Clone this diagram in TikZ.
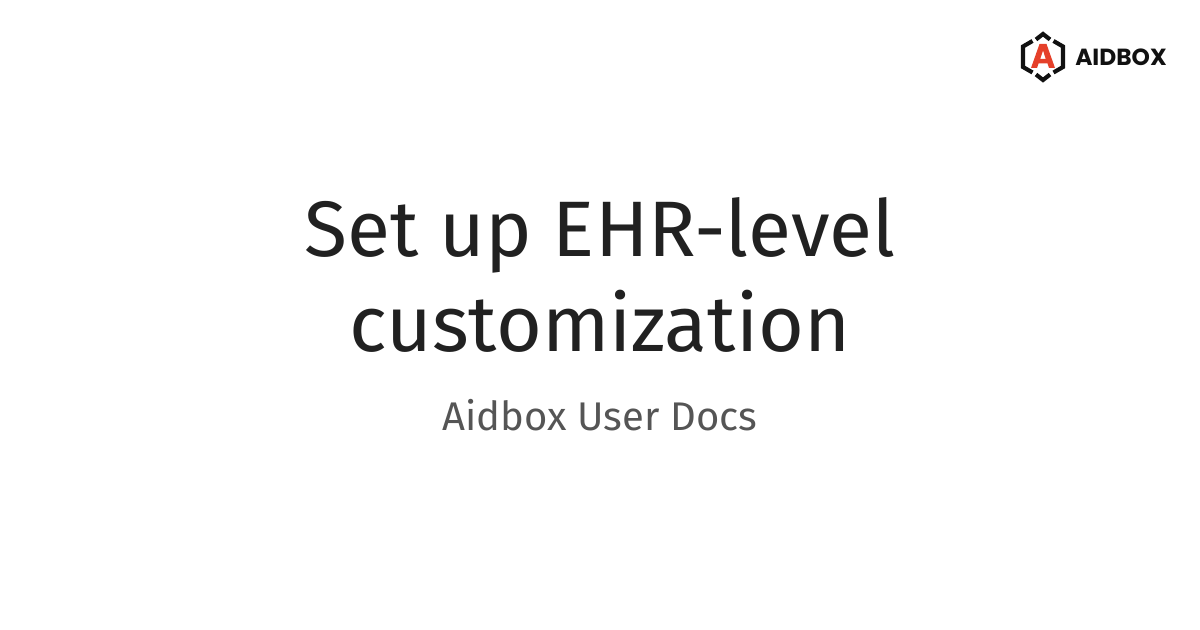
\documentclass[tikz,border=0pt]{standalone}
\usepackage{fontspec}
\setmainfont{Fira Sans}
\newfontfamily\logofont{Poppins}
\usepackage{tikz}
\usetikzlibrary{positioning}
\definecolor{titleink}{HTML}{212121}
\definecolor{subink}{HTML}{555555}
\definecolor{logored}{HTML}{E5402A}
\definecolor{logoink}{HTML}{111111}

\begin{document}
\begin{tikzpicture}[
  x=0.75pt, y=-0.75pt,
  title/.style={align=center, inner sep=0pt, text=titleink,
    font=\fontsize{59}{71.25}\selectfont},
  subtitle/.style={inner sep=0pt, text=subink,
    font=\fontsize{30}{38}\selectfont},
  wordmark/.style={inner sep=0pt, text=logoink,
    font=\logofont\bfseries\fontsize{17.5}{20}\selectfont},
  hexline/.style={draw=logoink, line width=3.1pt, line join=miter},
]
\useasboundingbox (0, 0) rectangle (1200, 630);

% --- Title ---
\node[title] (heading) at (600, 275) {Set up EHR-level\\customization};
\node[subtitle] (docs) at (600, 415) {Aidbox User Docs};

% --- Logo hexagon ---
\draw[hexline] (1036, 39.5) -- (1043, 34) -- (1050, 39.5);
\draw[hexline] (1032.5, 41) -- (1023, 46.5) -- (1023, 67) -- (1032.5, 72.5);
\draw[hexline] (1053.5, 41) -- (1063, 46.5) -- (1063, 67) -- (1053.5, 72.5);
\draw[hexline] (1036, 74.5) -- (1043, 80) -- (1050, 74.5);

% --- Logo letter ---
\fill[logored, even odd rule] (1039.5, 44) -- (1046.5, 44) -- (1055, 68) -- (1049, 68)
  -- (1047.5, 63.5) -- (1038.5, 63.5) -- (1037, 68) -- (1031, 68) -- cycle
  (1043, 50.5) -- (1040.2, 59) -- (1045.8, 59) -- cycle;

% --- Logo name ---
\node[wordmark, anchor=west] (brand) at (1075, 57.5) {AIDBOX};

\end{tikzpicture}
\end{document}
